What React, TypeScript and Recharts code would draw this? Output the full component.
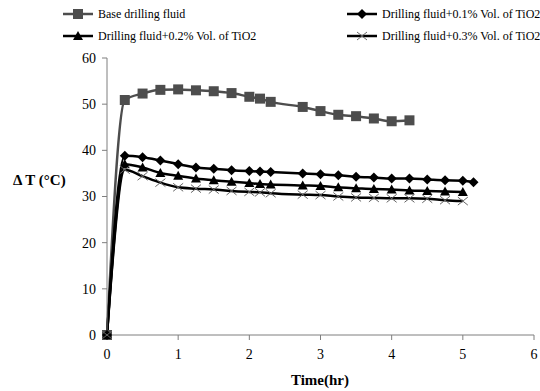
import React from 'react'
import { LineChart, Line, XAxis, YAxis } from 'recharts'

// drop the default body margin so the 540x391 chart fills the page
if (typeof document !== 'undefined') document.body.style.margin = '0'

// time points (hr) shared by all series; each series uses the first N
const time = [0, 0.25, 0.5, 0.75, 1, 1.25, 1.5, 1.75, 2, 2.15, 2.3, 2.75, 3, 3.25, 3.5, 3.75, 4, 4.25, 4.5, 4.75, 5, 5.15]

const baseFluid = [0, 50.9, 52.3, 53.1, 53.2, 53.0, 52.8, 52.4, 51.6, 51.2, 50.5, 49.4, 48.5, 47.7, 47.4, 46.9, 46.3, 46.5]
const tio2_01 = [0, 38.8, 38.5, 37.8, 37.0, 36.3, 36.0, 35.7, 35.5, 35.4, 35.3, 35.0, 34.8, 34.6, 34.3, 34.1, 33.9, 33.9, 33.7, 33.5, 33.4, 33.1]
const tio2_02 = [0, 37.0, 36.3, 35.1, 34.5, 33.9, 33.5, 33.2, 32.9, 32.7, 32.6, 32.4, 32.3, 32.0, 31.8, 31.6, 31.5, 31.3, 31.2, 31.1, 31.0]
const tio2_03 = [0, 35.8, 34.4, 33.0, 32.0, 31.7, 31.5, 31.2, 31.0, 30.9, 30.7, 30.4, 30.3, 30.0, 29.8, 29.7, 29.6, 29.6, 29.5, 29.2, 29.0]

const xTicks = [0, 1, 2, 3, 4, 5, 6]
const yTicks = [0, 10, 20, 30, 40, 50, 60]

const toPoints = (values: number[]) => values.map((v, i) => ({ t: time[i], v }))

const FONT = '"Liberation Serif", "Times New Roman", Times, serif'
const GREY = '#4d4d4d'

type MarkerKind = 'square' | 'diamond' | 'triangle' | 'cross'

function Marker({ kind, cx, cy }: { kind: MarkerKind; cx: number; cy: number }) {
  if (kind === 'square') {
    return <rect x={cx - 5} y={cy - 5} width={10} height={10} fill={GREY} />
  }
  if (kind === 'diamond') {
    return <polygon points={`${cx},${cy - 5} ${cx + 5},${cy} ${cx},${cy + 5} ${cx - 5},${cy}`} fill="#000" />
  }
  if (kind === 'triangle') {
    return <polygon points={`${cx},${cy - 5} ${cx + 5},${cy + 4} ${cx - 5},${cy + 4}`} fill="#000" />
  }
  return (
    <g stroke="#666" strokeWidth={1}>
      <line x1={cx - 5} y1={cy - 4} x2={cx + 5} y2={cy + 4} />
      <line x1={cx - 5} y1={cy + 4} x2={cx + 5} y2={cy - 4} />
    </g>
  )
}

const series = [
  { name: 'Base drilling fluid', values: baseFluid, kind: 'square' as MarkerKind, color: GREY },
  { name: 'Drilling fluid+0.1% Vol. of TiO2', values: tio2_01, kind: 'diamond' as MarkerKind, color: '#000' },
  { name: 'Drilling fluid+0.2% Vol. of TiO2', values: tio2_02, kind: 'triangle' as MarkerKind, color: '#000' },
  { name: 'Drilling fluid+0.3% Vol. of TiO2', values: tio2_03, kind: 'cross' as MarkerKind, color: '#000' },
]

function LegendItem({ s }: { s: (typeof series)[number] }) {
  return (
    <div style={{ display: 'flex', alignItems: 'center', height: 16, whiteSpace: 'nowrap' }}>
      <svg width={32} height={14} style={{ marginRight: 4 }}>
        <line x1={1} y1={7} x2={31} y2={7} stroke={s.color} strokeWidth={2.5} />
        <Marker kind={s.kind} cx={16} cy={7} />
      </svg>
      <span>{s.name}</span>
    </div>
  )
}

const tickStyle = { fill: '#000', fontSize: 14 }

export default function App() {
  return (
    <div className="chart-root" style={{ position: 'relative', width: 540, height: 391, background: '#fff', overflow: 'hidden' }}>
      <style>{`.chart-root, .chart-root text { font-family: ${FONT} !important; }`}</style>
      <div style={{ position: 'absolute', left: 62, top: 6, fontSize: 12, lineHeight: '16px' }}>
        <LegendItem s={series[0]} />
        <div style={{ height: 6 }} />
        <LegendItem s={series[2]} />
      </div>
      <div style={{ position: 'absolute', left: 346, top: 6, fontSize: 12, lineHeight: '16px' }}>
        <LegendItem s={series[1]} />
        <div style={{ height: 6 }} />
        <LegendItem s={series[3]} />
      </div>

      <LineChart width={540} height={391} margin={{ top: 58, right: 6, left: 0, bottom: 26 }}>
        <XAxis
          dataKey="t"
          type="number"
          domain={[0, 6]}
          ticks={xTicks}
          axisLine={{ stroke: '#7f7f7f' }}
          tickLine={{ stroke: '#7f7f7f' }}
          tickSize={5}
          tickMargin={9}
          tick={tickStyle}
          height={30}
          allowDuplicatedCategory={false}
        />
        <YAxis
          type="number"
          domain={[0, 60]}
          ticks={yTicks}
          width={107}
          axisLine={{ stroke: '#7f7f7f' }}
          tickLine={{ stroke: '#7f7f7f' }}
          tickSize={5}
          tickMargin={6}
          tick={tickStyle}
        />
        {series.map((s) => (
          <Line
            key={s.name}
            data={toPoints(s.values)}
            dataKey="v"
            name={s.name}
            type="monotone"
            stroke={s.color}
            strokeWidth={2.5}
            isAnimationActive={false}
            dot={(props: any) => <Marker key={`${s.kind}-${props.index}`} kind={s.kind} cx={props.cx} cy={props.cy} />}
            activeDot={false}
          />
        ))}
      </LineChart>

      <div style={{ position: 'absolute', left: 13, top: 172, fontSize: 15, fontWeight: 'bold', whiteSpace: 'nowrap' }}>Δ T (°C)</div>
      <div style={{ position: 'absolute', left: 220, width: 200, top: 372, textAlign: 'center', fontSize: 15, fontWeight: 'bold' }}>Time(hr)</div>
    </div>
  )
}
